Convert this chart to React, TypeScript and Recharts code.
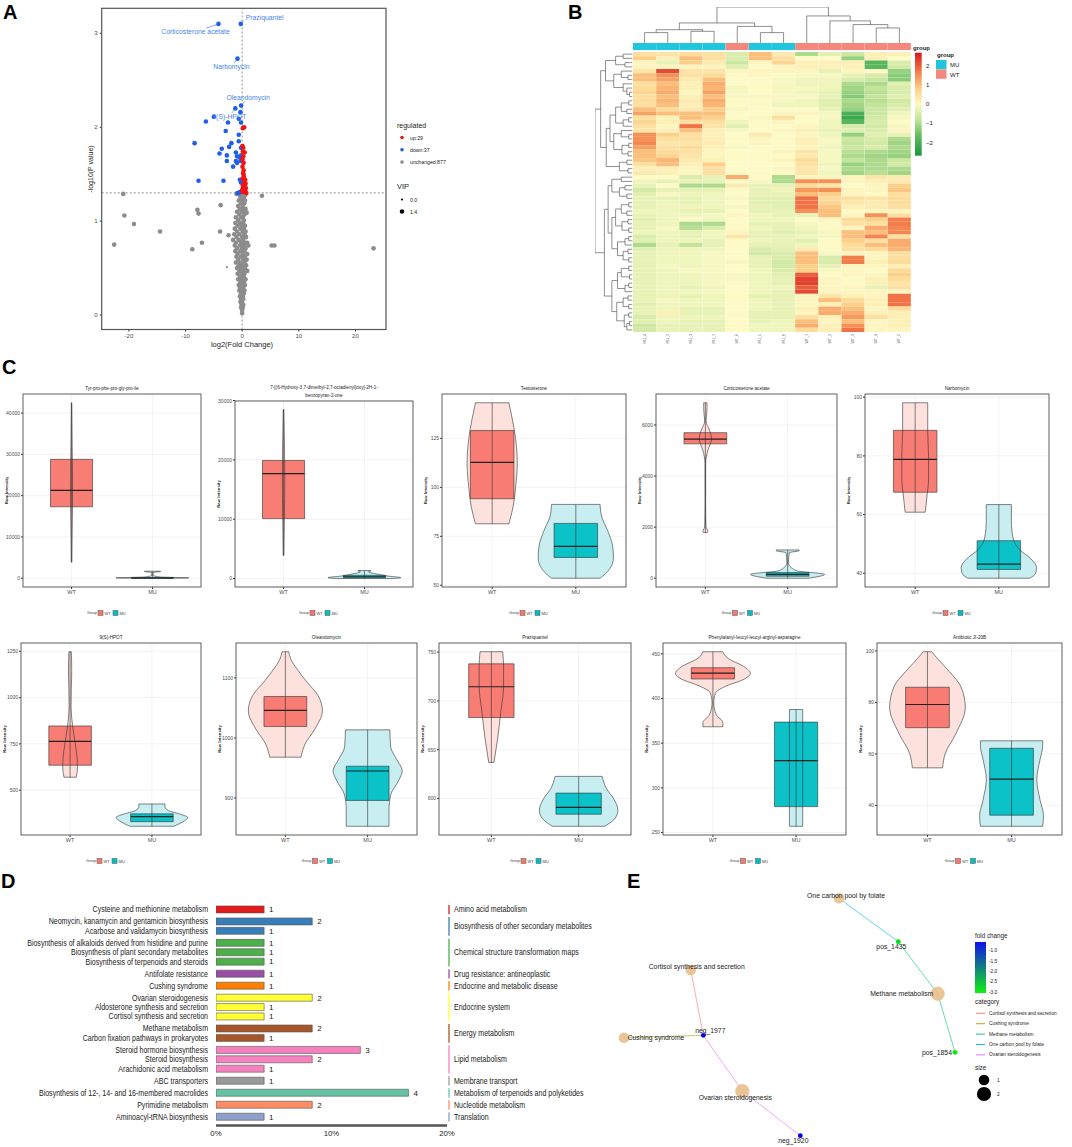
import React from 'react';
import {
  ScatterChart, Scatter, XAxis, YAxis, ReferenceLine, ComposedChart, Area, Line,
  CartesianGrid, BarChart, Bar, Cell, LabelList, LineChart,
} from 'recharts';

const FONT = '"Liberation Sans", Arial, Helvetica, sans-serif';

// ================= Panel A : volcano =================
const volcanoUp: [number, number][] = [
  [0.12, 1.99], [0.36, 2.0], [0.06, 1.8], [0.12, 1.74], [0.2, 1.69], [0.06, 1.66], [0.26, 1.62], [0.06, 1.58],
  [0.18, 1.51], [0.26, 1.49], [0.06, 1.45], [0.4, 1.41], [0.6, 1.4], [0.12, 1.38], [0.5, 1.37], [0.2, 1.36],
  [0.65, 1.35], [0.06, 1.34], [0.4, 1.32], [0.6, 1.31], [0.18, 1.31], [0.75, 1.3], [0.02, 1.32], [0.55, 1.44],
  [0.26, 1.54], [0.45, 1.73], [0.2, 1.78], [0.3, 1.47], [0.1, 1.33],
];
const volcanoDown: [number, number][] = [
  [-0.3, 2.16], [-5.0, 2.11], [-6.4, 2.06], [-2.5, 2.05], [-0.6, 2.09], [-0.2, 2.05], [-2.9, 1.96], [-0.6, 1.92],
  [-8.4, 1.83], [-1.9, 1.83], [-0.6, 1.85], [-3.6, 1.77], [-2.3, 1.79], [-0.2, 1.78], [-4.0, 1.72], [-2.7, 1.7],
  [-1.1, 1.73], [-0.9, 1.69], [-0.2, 1.7], [-2.7, 1.64], [-1.1, 1.64], [-0.5, 1.68], [-1.6, 1.58], [-0.9, 1.62],
  [-0.3, 1.64], [-7.7, 1.43], [-3.3, 1.43], [-0.4, 1.44], [-0.2, 1.41], [-0.6, 1.3], [-0.4, 1.31], [-0.8, 1.3],
];
const volcanoLabelNames = ['Praziquantel', 'Corticosterone acetate', 'Narbomycin', 'Oleandomycin', '9(S)-HPOT'];
const volcanoLabelX = [-0.24, -4.18, -0.82, -0.18, -1.2];
const volcanoLabelY = [3.1, 3.1, 2.73, 2.23, 2.2];
const volcanoNS: [number, number][] = [
  [-21.0, 1.29], [-20.8, 1.06], [-19.1, 0.97], [-22.6, 0.75], [-14.5, 0.89], [-8.8, 0.7], [-7.1, 0.77], [-7.9, 1.12],
  [-7.7, 1.08], [-3.8, 1.17], [-3.9, 0.89], [-2.4, 0.85], [3.5, 1.27], [0.8, 1.09], [5.2, 0.74], [5.7, 0.74],
  [23.2, 0.71], [0.9, 0.77], [-1.0, 1.29],
  [-0.5, 1.28], [0.1, 1.28], [0.6, 1.28], [-0.3, 1.25], [0.3, 1.25], [-0.6, 1.22], [0.0, 1.22], [0.5, 1.22],
  [-0.2, 1.19], [0.4, 1.19], [-0.7, 1.16], [0.1, 1.16], [-0.4, 1.13], [0.3, 1.13], [0.6, 1.13], [-0.9, 1.1],
  [-0.1, 1.1], [0.2, 1.1], [-0.5, 1.07], [0.4, 1.07], [-1.1, 1.04], [-0.2, 1.04], [0.1, 1.04], [-0.7, 1.01],
  [0.3, 1.01], [-1.2, 0.98], [-0.4, 0.98], [0.2, 0.98], [-0.8, 0.95], [0.0, 0.95], [0.5, 0.95], [-1.3, 0.92],
  [-0.3, 0.92], [0.3, 0.92], [-0.9, 0.89], [0.1, 0.89], [0.6, 0.89], [-1.4, 0.86], [-0.5, 0.86], [0.4, 0.86],
  [-1.0, 0.83], [0.0, 0.83], [0.7, 0.83], [-1.6, 0.8], [-0.6, 0.8], [0.2, 0.8], [-1.1, 0.77], [-0.2, 0.77],
  [0.5, 0.77], [-1.3, 0.74], [-0.4, 0.74], [0.3, 0.74], [1.1, 0.74], [-0.9, 0.71], [0.0, 0.71], [0.6, 0.71],
  [-1.2, 0.68], [-0.3, 0.68], [0.4, 0.68], [-0.8, 0.65], [0.1, 0.65], [0.9, 0.65], [-1.0, 0.62], [-0.2, 0.62],
  [0.5, 0.62], [-0.7, 0.59], [0.2, 0.59], [0.8, 0.59], [-1.1, 0.56], [-0.3, 0.56], [0.4, 0.56], [-0.6, 0.53],
  [0.0, 0.53], [0.7, 0.53], [-0.9, 0.5], [-0.2, 0.5], [0.5, 0.5], [-0.5, 0.47], [0.2, 0.47], [0.9, 0.47],
  [-0.8, 0.44], [-0.1, 0.44], [0.4, 0.44], [-0.4, 0.41], [0.3, 0.41], [-0.7, 0.38], [0.0, 0.38], [0.6, 0.38],
  [-0.3, 0.35], [0.3, 0.35], [-0.6, 0.32], [0.1, 0.32], [0.5, 0.32], [-0.4, 0.29], [0.2, 0.29], [-0.5, 0.26],
  [0.0, 0.26], [0.4, 0.26], [-0.2, 0.23], [0.3, 0.23], [-0.4, 0.2], [0.1, 0.2], [-0.2, 0.17], [0.2, 0.17],
  [-0.3, 0.14], [0.0, 0.14], [-0.1, 0.11], [0.2, 0.11], [-0.2, 0.08], [0.1, 0.08], [0.0, 0.05], [0.0, 0.02],
];
const volcanoNSsmall: [number, number][] = [[-2.7, 0.51]];
const volcanoXTicks = [-20, -10, 0, 10, 20];
const volcanoYTicks = [0, 1, 2, 3];
const regulatedLabels = ['up:29', 'down:37', 'unchanged:877'];
const vipLabels = ['0.0', '1.4'];
const pThreshold = 1.301;

// ================= Panel B : heatmap =================
const heatColLabels = ['MU_4', 'MU_2', 'MU_3', 'MU_1', 'WT_6', 'MU_5', 'MU_6', 'WT_1', 'WT_2', 'WT_3', 'WT_4', 'WT_5'];
const heatColGroups = ['MU', 'MU', 'MU', 'MU', 'WT', 'MU', 'MU', 'WT', 'WT', 'WT', 'WT', 'WT'];
const heatRows: number[][] = [
  [0.5, 0.4, 0.6, 0.5, -0.5, 1.0, 0.3, -1.0, -0.4, -0.7, 0.2, 0.2],
  [0.8, 0.2, 1.0, 0.5, -0.5, 1.0, 0.5, 0.0, 0.0, -1.2, 0.2, 0.0],
  [0.1, -0.3, 0.8, 0.3, -0.7, 0.1, 0.7, 0.2, 0.2, 0.2, -1.8, -0.5],
  [0.1, 0.1, 0.1, 0.1, -0.4, 0.0, 0.1, 0.2, 0.2, 0.2, -1.8, -0.6],
  [0.4, 2.2, 0.4, 0.4, 0.1, 0.1, 0.1, 0.1, -0.3, 0.1, 0.0, -1.2],
  [1.0, 1.5, 0.5, 0.6, 0.0, 0.1, 0.0, -0.1, -0.1, -0.3, -0.5, -1.3],
  [1.0, 1.3, 0.3, 1.0, 0.0, 0.0, -0.1, -0.2, -0.2, -0.5, -0.7, -1.3],
  [0.5, 1.0, 0.2, 1.2, 0.0, 0.0, -0.1, -0.2, -0.2, -1.0, -1.0, -0.4],
  [0.6, 1.1, 0.2, 1.1, -0.1, 0.0, -0.1, -0.1, -0.2, -1.1, -0.8, -0.5],
  [0.7, 1.2, 0.1, 1.3, -0.1, 0.0, -0.1, -0.2, -0.3, -1.2, -0.9, -0.5],
  [0.5, 1.0, 0.2, 1.0, -0.1, 0.1, -0.1, -0.1, -0.3, -1.3, -0.8, -0.4],
  [0.6, 1.1, 0.3, 1.2, 0.0, 0.0, -0.1, -0.2, -0.4, -1.0, -0.9, -0.6],
  [0.5, 1.0, 0.2, 1.1, 0.0, 0.0, -0.2, -0.2, -0.4, -1.1, -0.8, -0.5],
  [1.0, 0.6, 0.3, 0.8, -0.1, 0.0, 0.0, 0.0, -0.3, -1.2, -0.7, -0.4],
  [1.3, 1.0, 1.0, 1.0, 0.0, 0.0, 0.1, 0.1, -0.1, -2.0, -0.7, -0.2],
  [0.5, 0.2, 1.0, 0.8, 0.0, 0.1, 0.5, 0.0, -0.1, -2.2, -0.6, -0.1],
  [0.7, 0.2, 0.5, 0.5, -0.2, 0.0, 0.1, 0.0, -0.2, -1.8, -0.5, 0.0],
  [0.5, 0.1, 1.8, 0.4, -0.4, 0.0, 0.0, 0.1, -0.2, -0.5, -0.6, -0.1],
  [0.4, 0.2, 1.0, 0.2, -0.1, 0.0, 0.1, 0.2, -0.3, -0.4, -0.5, 0.1],
  [1.5, 0.8, 0.5, 0.2, 0.0, 0.3, 0.0, 0.1, -0.2, -1.2, -0.4, -0.3],
  [1.5, 0.5, 0.5, 0.2, 0.0, 0.1, 0.0, 0.2, -0.1, -0.7, -0.5, -1.0],
  [1.6, 0.4, 0.4, 0.3, 0.0, 0.1, 0.0, 0.2, -0.1, -0.8, -0.6, -1.1],
  [1.3, 0.5, 0.6, 0.2, -0.1, 0.0, 0.0, 0.1, -0.2, -0.7, -0.5, -1.0],
  [1.0, 0.6, 0.5, 0.1, 0.0, 0.0, 0.1, 0.4, -0.1, -0.9, -1.0, -1.1],
  [1.0, 0.7, 0.4, 0.1, 0.0, 0.0, 0.0, 0.3, -0.1, -1.0, -1.1, -1.2],
  [0.9, 1.1, 0.3, 0.2, 0.0, 0.0, 0.1, 0.6, -0.1, -0.8, -1.0, -0.7],
  [0.5, 1.0, 0.2, 0.8, 0.0, 0.0, 0.0, 0.5, -0.2, -1.2, -1.0, -0.6],
  [0.2, 0.2, 0.1, 0.5, 0.0, 0.0, 0.1, 0.4, -0.1, -1.0, -1.0, -1.0],
  [0.3, 0.2, 0.1, 0.5, 0.0, 0.0, 0.0, 0.4, -0.2, -1.1, -0.9, -1.1],
  [0.0, 0.0, -0.5, -0.3, 1.2, 0.0, -1.0, 0.1, 0.1, 0.1, 0.4, 0.3],
  [-0.2, -0.3, -0.3, -0.3, 0.0, -0.1, -1.0, 1.5, 1.5, 0.1, 0.2, 0.3],
  [-0.3, 0.0, -1.0, -1.0, 0.3, -0.3, -0.3, 0.6, 0.4, 0.0, 0.1, 0.8],
  [-0.6, -0.3, -0.3, -0.3, 0.0, -0.3, -0.2, 1.4, 1.5, 0.1, 0.1, 0.9],
  [-0.4, -0.1, -0.2, -0.2, 0.0, -0.3, -0.3, 1.0, 0.8, 0.1, 0.0, 0.5],
  [-0.3, -0.3, -0.3, -0.2, -0.1, -0.4, -0.4, 1.8, 0.6, 0.5, 0.4, 0.6],
  [-0.3, -0.2, -0.3, -0.2, 0.0, -0.4, -0.4, 1.8, 0.7, 0.4, 0.3, 0.6],
  [-0.3, -0.2, -0.2, -0.2, -0.1, -0.3, -0.4, 1.8, 0.9, 0.2, 0.3, 0.5],
  [-0.2, -0.2, -0.3, -0.3, 0.0, -0.3, -0.3, 1.5, 1.0, 0.0, 0.1, 0.1],
  [-0.3, -0.2, -0.2, -0.1, 0.1, -0.2, -0.3, -0.3, 1.0, 0.1, 1.5, 0.5],
  [-0.4, -0.2, 0.0, -0.2, 0.0, -0.2, -0.2, 0.0, 0.1, 0.6, 0.8, 1.7],
  [-0.3, -0.2, -1.0, -1.0, 0.0, -0.3, -0.3, -0.1, 0.0, 0.5, 0.5, 1.7],
  [-0.3, -0.1, -0.9, -0.5, 0.0, -0.2, -0.3, -0.2, 0.0, 0.1, 1.2, 1.6],
  [-0.2, -0.2, -0.3, -0.2, 0.1, -0.3, -0.4, -0.3, -0.1, 1.0, 1.0, 1.6],
  [-0.5, -0.2, -0.3, -0.2, 0.4, -0.3, -0.3, -0.2, -0.1, 1.0, 1.6, 0.5],
  [-0.4, -0.2, -0.2, -0.3, 0.0, -0.2, -0.3, -0.4, 0.0, 0.8, 0.5, 1.2],
  [-1.0, -0.3, -0.8, -0.3, 0.0, -0.3, -0.3, -0.2, 0.0, 0.6, 1.0, 1.2],
  [-0.4, -0.2, -0.2, -0.2, 0.0, -0.5, -0.4, 0.3, 0.0, 0.5, 0.6, 1.1],
  [-0.3, -0.2, -0.2, -0.1, 0.0, -0.6, -0.5, 1.0, -0.1, 0.1, 0.1, 0.5],
  [-0.3, -0.2, -0.2, -0.1, 0.0, -0.3, -0.5, 1.0, -0.5, 1.7, 0.1, 0.5],
  [-0.3, -0.2, -0.2, -0.1, -0.1, -0.3, -0.6, 1.0, -0.5, 1.7, 0.2, 0.6],
  [-0.3, -0.1, -0.2, -0.1, 0.0, -0.3, -0.6, 0.8, -0.3, 0.1, 0.1, 0.2],
  [-0.3, -0.2, -0.1, -0.1, 0.0, -0.2, -0.5, 0.8, -0.1, 0.1, 0.0, 0.6],
  [-0.3, -0.2, -0.2, -0.1, -0.1, -0.2, -0.4, 2.0, 0.0, 0.1, 0.1, 0.8],
  [-0.3, -0.2, -0.2, -0.1, -0.1, -0.2, -0.3, 2.3, 0.1, 0.0, 0.2, 0.6],
  [-0.3, -0.2, -0.2, -0.1, 0.0, -0.2, -0.3, 2.3, 0.1, 0.0, 0.2, 0.4],
  [-0.3, -0.2, -0.3, -0.2, 0.0, -0.2, -0.2, 2.0, 0.1, 0.1, -0.3, 0.5],
  [-0.3, -0.2, -0.2, -0.1, 0.0, -0.2, -0.3, 2.2, 0.1, 0.1, 0.1, 0.1],
  [-0.3, -0.2, -0.3, -0.2, 0.0, -0.3, -0.3, 0.1, 0.4, 0.2, 0.1, 1.8],
  [-0.3, -0.1, -0.2, -0.2, 0.0, -0.2, -0.3, 0.1, 1.0, 0.6, 0.2, 1.8],
  [-0.4, -0.2, -0.2, -0.2, 0.0, -0.2, -0.3, 0.1, 0.2, 0.8, 0.2, 1.8],
  [-0.3, -0.2, -0.3, -0.3, 0.0, -0.2, -0.3, 0.2, 1.2, 1.0, 0.1, 0.6],
  [-0.3, 0.2, -0.3, -0.3, 0.0, -0.3, -0.3, 0.1, 1.2, 1.2, 0.2, 0.2],
  [-0.5, -0.2, -0.2, -0.2, 0.0, -0.3, -0.3, 0.5, 0.2, 1.4, 0.5, 0.2],
  [-0.4, -0.2, -0.3, -0.3, 0.0, -0.3, -0.2, 1.0, 0.1, 1.0, 0.1, 0.2],
  [-0.7, -0.3, -0.3, -0.3, 0.0, -0.2, -0.2, 1.2, 0.2, 1.5, 0.1, 0.2],
  [-0.6, -0.3, -0.3, -0.3, 0.0, -0.2, -0.2, 0.6, 0.2, 1.8, 0.1, 0.1],
];
type TNode = number | [TNode, TNode, number];
const colTree: TNode = [
  [[[0, 1, 0.3], [2, 3, 0.336], 0.38], [4, [5, 6, 0.3], 0.47], 0.564],
  [7, [8, [9, [10, 11, 0.427], 0.52], 0.62], 0.755],
  1.0,
];
const rowTree: TNode = [
  [
    [[[0, 1, 0.25], [2, 3, 0.2], 0.45], [[4, [5, 6, 0.12], 0.3], [7, [8, [9, 10, 0.08], 0.15], 0.25], 0.5], 0.72],
    [[[[[11, 12, 0.1], [13, 14, 0.15], 0.3], [[15, 16, 0.1], 17, 0.25], 0.45], [[18, [19, 20, 0.1], 0.3], [[21, 22, 0.1], [23, 24, 0.12], 0.28], 0.5], 0.6],
      [[25, 26, 0.15], [27, 28, 0.12], 0.35], 0.7],
    0.85,
  ],
  [
    [[[29, 30, 0.3], [[31, 32, 0.2], [33, 34, 0.15], 0.35], 0.55],
      [[[[35, 36, 0.1], [37, 38, 0.15], 0.3], [[39, 40, 0.12], [41, 42, 0.1], 0.28], 0.45],
        [[[43, 44, 0.1], 45, 0.2], [[46, 47, 0.12], [48, 49, 0.1], 0.25], 0.4], 0.55], 0.65],
    [[[[50, 51, 0.1], [52, 53, 0.08], 0.3], [[54, 55, 0.1], 56, 0.2], 0.4],
      [[[57, 58, 0.12], [59, 60, 0.1], 0.25], [[61, 62, 0.1], [[63, 64, 0.08], 65, 0.15], 0.22], 0.42], 0.55],
    0.75,
  ],
  1.0,
];
const heatLegendTicks = [2, 1, 0, -1, -2];
const heatLegendMax = 2.69;
const heatLegendMin = -2.68;
const groupNames = ['MU', 'WT'];

// ================= Panel C : violins =================
const violinTitles = [
  'Tyr-pro-phe-pro-gly-pro-ile',
  '7-[(6-Hydroxy-3,7-dimethyl-2,7-octadienyl)oxy]-2H-1-benzopyran-2-one',
  'Testosterone', 'Corticosterone acetate', 'Narbomycin',
  '9(S)-HPOT', 'Oleandomycin', 'Praziquantel', 'Phenylalanyl-leucyl-leucyl-arginyl-asparagine', 'Antibiotic JI-20B',
];
const violinTicks: number[][] = [
  [0, 10000, 20000, 30000, 40000], [0, 10000, 20000, 30000], [50, 75, 100, 125], [0, 2000, 4000, 6000], [40, 60, 80, 100],
  [500, 750, 1000, 1250], [900, 1000, 1100], [600, 650, 700, 750], [250, 300, 350, 400, 450], [40, 60, 80, 100],
];
// [value, half width]
const wtProfiles: [number, number][][] = [
  [[3900, 0.004], [10000, 0.007], [18000, 0.012], [24000, 0.012], [32000, 0.008], [42500, 0.003]],
  [[3900, 0.005], [10000, 0.01], [17000, 0.015], [22000, 0.012], [28500, 0.004]],
  [[81.4, 0.2], [90, 0.25], [100, 0.28], [112, 0.3], [125, 0.28], [135, 0.24], [143.2, 0.2]],
  [[1786, 0.025], [1850, 0.03], [2000, 0.008], [3000, 0.003], [4500, 0.004], [5000, 0.03], [5450, 0.075], [5800, 0.05], [6150, 0.008], [6600, 0.02], [6870, 0.02]],
  [[60.8, 0.12], [66, 0.14], [72, 0.16], [80, 0.16], [88, 0.15], [94, 0.15], [98.1, 0.15]],
  [[570, 0.075], [620, 0.09], [680, 0.085], [760, 0.06], [850, 0.03], [950, 0.012], [1050, 0.015], [1150, 0.02], [1248, 0.015]],
  [[968, 0.19], [990, 0.24], [1015, 0.36], [1045, 0.45], [1070, 0.4], [1095, 0.25], [1115, 0.14], [1130, 0.07], [1143.5, 0.04]],
  [[637, 0.03], [660, 0.07], [690, 0.11], [715, 0.14], [735, 0.14], [750.4, 0.13]],
  [[368.4, 0.12], [373, 0.12], [382, 0.04], [395, 0.01], [406, 0.03], [414, 0.16], [421, 0.36], [428, 0.45], [436, 0.37], [445, 0.18], [452.4, 0.12]],
  [[54.6, 0.18], [60, 0.21], [68, 0.34], [78, 0.45], [86, 0.4], [92, 0.26], [97, 0.12], [99.7, 0.05]],
];
const muProfiles: [number, number][][] = [
  [[0, 0.3], [80, 0.45], [300, 0.1], [700, 0.01], [1400, 0.01], [1620, 0.1], [1700, 0.1]],
  [[0, 0.35], [150, 0.45], [400, 0.3], [800, 0.14], [1150, 0.05], [1300, 0.08], [1350, 0.08]],
  [[53.6, 0.29], [58, 0.4], [64, 0.45], [70, 0.44], [78, 0.38], [85, 0.31], [91.3, 0.29]],
  [[0, 0.25], [150, 0.45], [300, 0.1], [600, 0.01], [1000, 0.02], [1080, 0.14], [1107, 0.14]],
  [[38.3, 0.37], [40, 0.44], [42, 0.45], [45, 0.38], [48, 0.25], [52, 0.17], [58, 0.15], [63.4, 0.15]],
  [[305, 0.27], [330, 0.38], [352, 0.44], [370, 0.35], [390, 0.2], [410, 0.16], [425.5, 0.16]],
  [[853, 0.26], [880, 0.26], [905, 0.28], [930, 0.38], [945, 0.42], [965, 0.35], [985, 0.28], [1013.5, 0.27]],
  [[571.6, 0.3], [580, 0.42], [588, 0.45], [600, 0.4], [610, 0.32], [622.7, 0.27]],
  [[257, 0.08], [300, 0.08], [350, 0.08], [387.7, 0.08]],
  [[31.9, 0.37], [36, 0.38], [42, 0.34], [50, 0.3], [58, 0.34], [63, 0.37], [65.1, 0.37]],
];
// [q1, median, q3]
const wtBoxes: [number, number, number][] = [
  [17300, 21300, 28800], [10100, 17700, 19900], [94.2, 112.8, 129], [5262, 5450, 5700], [67.6, 78.8, 88.7],
  [635, 764, 847], [1019, 1046, 1069], [683, 714.5, 738], [421.9, 428.4, 434.5], [70.2, 79.2, 85.9],
];
const muBoxes: [number, number, number][] = [
  [10, 60, 150], [120, 300, 550], [64.2, 69.9, 81.6], [80, 150, 220], [41.3, 43.1, 51.1],
  [330, 357, 372], [896, 945, 953], [584, 591, 605.6], [279, 330.6, 373.6], [36.2, 50.2, 62.2],
];
const violinGroups = ['WT', 'MU'];

// ================= Panel D : KEGG bars =================
const keggNames = [
  'Cysteine and methionine metabolism', 'Neomycin, kanamycin and gentamicin biosynthesis', 'Acarbose and validamycin biosynthesis',
  'Biosynthesis of alkaloids derived from histidine and purine', 'Biosynthesis of plant secondary metabolites', 'Biosynthesis of terpenoids and steroids',
  'Antifolate resistance', 'Cushing syndrome', 'Ovarian steroidogenesis', 'Aldosterone synthesis and secretion', 'Cortisol synthesis and secretion',
  'Methane metabolism', 'Carbon fixation pathways in prokaryotes', 'Steroid hormone biosynthesis', 'Steroid biosynthesis', 'Arachidonic acid metabolism',
  'ABC transporters', 'Biosynthesis of 12-, 14- and 16-membered macrolides', 'Pyrimidine metabolism', 'Aminoacyl-tRNA biosynthesis',
];
const keggCounts = [1, 2, 1, 1, 1, 1, 1, 1, 2, 1, 1, 2, 1, 3, 2, 1, 1, 4, 2, 1];
const keggGroupIdx = [0, 1, 1, 2, 2, 2, 3, 4, 5, 5, 5, 6, 6, 7, 7, 7, 8, 9, 10, 11];
const keggGroups = [
  'Amino acid metabolism', 'Biosynthesis of other secondary metabolites', 'Chemical structure transformation maps',
  'Drug resistance: antineoplastic', 'Endocrine and metabolic disease', 'Endocrine system', 'Energy metabolism', 'Lipid metabolism',
  'Membrane transport', 'Metabolism of terpenoids and polyketides', 'Nucleotide metabolism', 'Translation',
];
const keggTotal = 24;
const keggXTicks = [0, 10, 20];

// ================= Panel E : network =================
const netNames = ['One carbon pool by folate', 'pos_1435', 'Methane metabolism', 'pos_1854', 'Cortisol synthesis and secretion', 'neg_1977', 'Cushing syndrome', 'Ovarian steroidogenesis', 'neg_1920'];
const netX = [23.9, 29.83, 33.77, 35.5, 9.07, 10.33, 2.4, 14.23, 20.03];
const netY = [2.83, 7.17, 12.37, 18.23, 10.0, 16.53, 16.77, 22.1, 26.57];
const netSize = [1, 0, 2, 0, 1, 0, 1, 2, 0];
const netFold = [NaN, -2.9, NaN, -3.0, NaN, -1.0, NaN, NaN, -1.0];
const netCategories = ['Cortisol synthesis and secretion', 'Cushing syndrome', 'Methane metabolism', 'One carbon pool by folate', 'Ovarian steroidogenesis'];
const netEdges: [number, number, number][] = [[0, 1, 3], [1, 2, 2], [2, 3, 2], [4, 5, 0], [6, 5, 1], [7, 5, 4], [7, 8, 4]];
const foldTicks = [-1.0, -1.5, -2.0, -2.5, -3.0];
const sizeLevels = [1, 2];

// ================= styles / helpers =================
const catColors = ['#F8766D', '#A3A500', '#00BF7D', '#00B0F6', '#E76BF3'];
const keggColors = ['#e41a1c', '#377eb8', '#4daf4a', '#984ea3', '#ff7f00', '#ffff33', '#a65628', '#f781bf', '#999999', '#66c2a5', '#fc8d62', '#8da0cb'];
const heatStops: [number, string][] = [[-2.7, '#1a9641'], [-1.6, '#66bd63'], [-0.8, '#c4e49a'], [0, '#fdfac6'], [0.8, '#fdd08a'], [1.6, '#f4874f'], [2.7, '#d7191c']];
const groupColor: Record<string, string> = { MU: '#1fc6de', WT: '#f6877c' };

function hex2rgb(h: string) { return [1, 3, 5].map((k) => parseInt(h.slice(k, k + 2), 16)); }
function mix(a: string, b: string, t: number) {
  const A = hex2rgb(a), B = hex2rgb(b);
  return 'rgb(' + A.map((v, i) => Math.round(v + (B[i] - v) * t)).join(',') + ')';
}
function heatColor(v: number) {
  if (v <= heatStops[0][0]) return heatStops[0][1];
  for (let i = 1; i < heatStops.length; i++) {
    if (v <= heatStops[i][0]) {
      const t = (v - heatStops[i - 1][0]) / (heatStops[i][0] - heatStops[i - 1][0]);
      return mix(heatStops[i - 1][1], heatStops[i][1], t);
    }
  }
  return heatStops[heatStops.length - 1][1];
}
function foldColor(v: number) { return mix('#00ee00', '#0000ff', (v + 3) / 2); }

function walkTree(t: TNode, leaf: (i: number) => number, out: { pos: number; h: number }[][]): { pos: number; h: number } {
  if (typeof t === 'number') return { pos: leaf(t), h: 0 };
  const a = walkTree(t[0], leaf, out);
  const b = walkTree(t[1], leaf, out);
  out.push([{ pos: a.pos, h: a.h }, { pos: a.pos, h: t[2] }, { pos: b.pos, h: t[2] }, { pos: b.pos, h: b.h }]);
  return { pos: (a.pos + b.pos) / 2, h: t[2] };
}

const abs = (l: number, t: number): React.CSSProperties => ({ position: 'absolute', left: l, top: t });

// ================= Panel A =================
const volcanoLabelStyle = [
  { dx: 5, dy: -6, anchor: 'start' }, { dx: -23, dy: 8, anchor: 'middle' }, { dx: -6, dy: 8, anchor: 'middle' },
  { dx: 7, dy: -8, anchor: 'middle' }, { dx: -6, dy: 8, anchor: 'middle' },
];
const dotShape = (fill: string, r: number) => (p: any) => <circle cx={p.cx} cy={p.cy} r={r} fill={fill} />;
const LabeledDot = (p: any) => {
  const s = volcanoLabelStyle[p.payload.i];
  return (
    <g>
      <line x1={p.cx} y1={p.cy} x2={p.cx + s.dx * 0.55} y2={p.cy + s.dy * 0.55} stroke="#4a86e8" strokeWidth={0.7} />
      <circle cx={p.cx} cy={p.cy} r={2.3} fill="#1f5ee8" />
      <text x={p.cx + s.dx} y={p.cy + s.dy} textAnchor={s.anchor as any} dominantBaseline="central" fontSize={6.8} fill="#4a86e8" fontFamily={FONT}>{p.payload.name}</text>
    </g>
  );
};
const A_L = 101.7, A_R = 386, A_T = 8.3, A_B = 329.5;

function PanelA() {
  const pts = (a: [number, number][]) => a.map(([x, y]) => ({ x, y }));
  const labeled = volcanoLabelNames.map((name, i) => ({ name, i, x: volcanoLabelX[i], y: volcanoLabelY[i] }));
  const tick = { fontSize: 6, fill: '#4d4d4d', fontFamily: FONT };
  return (
    <div style={abs(0, 0)}>
      <ScatterChart width={400} height={360} margin={{ top: A_T, right: 400 - A_R, bottom: 360 - A_B - 20, left: A_L - 20 }}>
        <XAxis type="number" dataKey="x" domain={[-24.8, 25.4]} ticks={volcanoXTicks} allowDataOverflow height={20} tick={tick} tickSize={2} axisLine={false} tickLine={{ stroke: '#333' }} />
        <YAxis type="number" dataKey="y" domain={[-0.154, 3.266]} ticks={volcanoYTicks} allowDataOverflow width={20} tick={tick} tickSize={2} axisLine={false} tickLine={{ stroke: '#333' }} />
        <ReferenceLine x={0} stroke="#777" strokeDasharray="2 2" strokeWidth={0.8} />
        <ReferenceLine y={pThreshold} stroke="#777" strokeDasharray="2 2" strokeWidth={0.8} />
        <Scatter data={pts(volcanoNS)} shape={dotShape('#8c8c8c', 2.3)} isAnimationActive={false} />
        <Scatter data={pts(volcanoNSsmall)} shape={dotShape('#8c8c8c', 1.1)} isAnimationActive={false} />
        <Scatter data={pts(volcanoDown)} shape={dotShape('#1f5ee8', 2.3)} isAnimationActive={false} />
        <Scatter data={pts(volcanoUp)} shape={dotShape('#f01414', 2.3)} isAnimationActive={false} />
        <Scatter data={labeled} shape={LabeledDot} isAnimationActive={false} />
      </ScatterChart>
    </div>
  );
}

// ================= Panel B =================
const HB_L = 632.5, HB_W = 278, HB_T = 52, HB_H = 280;

function PanelB() {
  const heatData = heatColLabels.map((name) => {
    const o: any = { name };
    heatRows.forEach((_, i) => { o['r' + i] = 1; });
    return o;
  });
  const annData = heatColLabels.map((name) => ({ name, v: 1 }));
  const colSegs: { pos: number; h: number }[][] = [];
  walkTree(colTree, (i) => i, colSegs);
  const colDendro = colSegs.flatMap((s) => [...s.map((p) => ({ c: p.pos, h: p.h })), { c: null, h: null }]);
  const rowSegs: { pos: number; h: number }[][] = [];
  walkTree(rowTree, (i) => i + 0.5, rowSegs);
  const rowDendro = rowSegs.flatMap((s) => [...s.map((p) => ({ h: p.h, r: p.pos })), { h: null, r: null }]);
  const ColTick = (p: any) => (
    <text transform={`translate(${p.x},${p.y + 2}) rotate(-90)`} textAnchor="end" dominantBaseline="central" fontSize={3.6} fill="#555" fontFamily={FONT}>{p.payload.value}</text>
  );
  return (
    <>
      <div style={abs(HB_L, 6.7)}>
        <LineChart width={HB_W} height={36.6} data={colDendro} margin={{ top: 0, right: 0, bottom: 0, left: 0 }}>
          <XAxis type="number" dataKey="c" domain={[-0.5, 11.5]} hide allowDataOverflow />
          <YAxis type="number" domain={[0, 1]} hide allowDataOverflow />
          <Line dataKey="h" stroke="#444" strokeWidth={0.6} dot={false} activeDot={false} isAnimationActive={false} />
        </LineChart>
      </div>
      <div style={abs(HB_L, 43.3)}>
        <BarChart width={HB_W} height={7} data={annData} margin={{ top: 0, right: 0, bottom: 0, left: 0 }} barCategoryGap={0}>
          <XAxis dataKey="name" hide />
          <YAxis domain={[0, 1]} hide />
          <Bar dataKey="v" isAnimationActive={false}>
            {annData.map((_, j) => <Cell key={j} fill={groupColor[heatColGroups[j]]} />)}
          </Bar>
        </BarChart>
      </div>
      <div style={abs(HB_L, HB_T)}>
        <BarChart width={HB_W} height={HB_H + 24} data={heatData} margin={{ top: 0, right: 0, bottom: 0, left: 0 }} barCategoryGap={0} barGap={0}>
          <XAxis dataKey="name" height={24} interval={0} tick={ColTick} axisLine={false} tickLine={false} tickSize={0} tickMargin={0} />
          <YAxis type="number" domain={[0, heatRows.length]} reversed hide allowDataOverflow />
          {heatRows.map((row, i) => (
            <Bar key={i} dataKey={'r' + i} stackId="s" isAnimationActive={false}>
              {row.map((v, j) => <Cell key={j} fill={heatColor(v)} />)}
            </Bar>
          ))}
        </BarChart>
      </div>
      <div style={abs(595, HB_T)}>
        <LineChart width={HB_L - 595} height={HB_H} data={rowDendro} margin={{ top: 0, right: 0, bottom: 0, left: 0 }}>
          <XAxis type="number" dataKey="h" domain={[0, 1]} reversed hide allowDataOverflow />
          <YAxis type="number" domain={[0, heatRows.length]} reversed hide allowDataOverflow />
          <Line dataKey="r" stroke="#444" strokeWidth={0.6} dot={false} activeDot={false} isAnimationActive={false} />
        </LineChart>
      </div>
    </>
  );
}

// ================= Panel C =================
const cLayout = [
  { l: 23, r: 201, t: 394, b: 587 }, { l: 235, r: 413, t: 401, b: 587 }, { l: 442, r: 626, t: 394, b: 587 },
  { l: 656, r: 837, t: 394, b: 587 }, { l: 865, r: 1049, t: 394, b: 587 },
  { l: 21, r: 201, t: 643, b: 835 }, { l: 236, r: 417, t: 643, b: 835 }, { l: 439, r: 631, t: 643, b: 835 },
  { l: 663, r: 846, t: 643, b: 835 }, { l: 877, r: 1062, t: 643, b: 835 },
];
const VIOLIN_FILL: Record<string, string> = { wt: '#fce1dd', mu: '#c9eef1' };
const BOX_FILL: Record<string, string> = { wt: '#f8766d', mu: '#00bfc4' };
const OUTLINE = '#333';

function buildViolinRows(prof: [number, number][], c: number, box: [number, number, number], g: string) {
  const rows: any[] = [];
  const hw = 0.26;
  prof.forEach(([v, w]) => rows.push({ y: v, [g + 'V']: [c - w, c + w] }));
  prof.forEach(([v, w]) => rows.push({ y: v, [g + 'L']: c - w }));
  prof.forEach(([v, w]) => rows.push({ y: v, [g + 'R']: c + w }));
  const [v0, w0] = prof[0];
  const [v1, w1] = prof[prof.length - 1];
  rows.push({ y: v0, [g + 'D']: c - w0 }, { y: v0, [g + 'D']: c + w0 });
  rows.push({ y: v1, [g + 'T']: c - w1 }, { y: v1, [g + 'T']: c + w1 });
  const [q1, md, q3] = box;
  rows.push({ y: q1, [g + 'B']: [c - hw, c + hw] }, { y: q3, [g + 'B']: [c - hw, c + hw] });
  rows.push({ y: v0, [g + 'W']: c }, { y: v1, [g + 'W']: c });
  rows.push(
    { y: q1, [g + 'Q']: c - hw }, { y: q1, [g + 'Q']: c + hw }, { y: q3, [g + 'Q']: c + hw },
    { y: q3, [g + 'Q']: c - hw }, { y: q1, [g + 'Q']: c - hw },
  );
  rows.push({ y: md, [g + 'M']: c - hw }, { y: md, [g + 'M']: c + hw });
  return rows;
}

function ViolinPanel({ idx }: { idx: number }) {
  const L = cLayout[idx];
  const wt = wtProfiles[idx], mu = muProfiles[idx];
  const vals = [...wt, ...mu].map((p) => p[0]);
  const mn = Math.min(...vals), mx = Math.max(...vals);
  const pad = (mx - mn) * 0.05;
  const rows = [...buildViolinRows(wt, 1, wtBoxes[idx], 'wt'), ...buildViolinRows(mu, 2, muBoxes[idx], 'mu')];
  const w = L.r - L.l, h = L.b - L.t;
  const tick = { fontSize: 5, fill: '#4d4d4d', fontFamily: FONT };
  const groups = ['wt', 'mu'];
  return (
    <div style={abs(L.l - 24, L.t - 2)}>
      <ComposedChart layout="vertical" width={w + 26} height={h + 16} data={rows} margin={{ top: 2, right: 2, bottom: 0, left: 0 }}>
        <CartesianGrid stroke="#ebebeb" strokeWidth={0.6} />
        <XAxis type="number" domain={[0.4, 2.6]} ticks={[1, 2]} tickFormatter={(v: number) => violinGroups[v - 1]} allowDataOverflow height={14}
          tick={{ fontSize: 5.5, fill: '#4d4d4d', fontFamily: FONT }} tickSize={2} tickMargin={1} axisLine={false} tickLine={{ stroke: '#333' }} />
        <YAxis type="number" dataKey="y" domain={[mn - pad, mx + pad]} reversed ticks={violinTicks[idx]} allowDataOverflow width={24}
          tick={tick} tickSize={2} tickMargin={1} axisLine={false} tickLine={{ stroke: '#333' }} />
        {groups.map((g) => (
          <Area key={g + 'V'} dataKey={g + 'V'} type="monotone" fill={VIOLIN_FILL[g]} fillOpacity={1} stroke="none" connectNulls isAnimationActive={false} />
        ))}
        {groups.map((g) => (
          <Area key={g + 'B'} dataKey={g + 'B'} type="linear" fill={BOX_FILL[g]} fillOpacity={0.95} stroke="none" connectNulls isAnimationActive={false} />
        ))}
        {groups.flatMap((g) => ['L', 'R'].map((s) => (
          <Line key={g + s} dataKey={g + s} type="monotone" stroke={OUTLINE} strokeWidth={0.6} dot={false} activeDot={false} connectNulls isAnimationActive={false} />
        )))}
        {groups.flatMap((g) => ['D', 'T', 'W', 'Q'].map((s) => (
          <Line key={g + s} dataKey={g + s} type="linear" stroke={OUTLINE} strokeWidth={0.6} dot={false} activeDot={false} connectNulls isAnimationActive={false} />
        )))}
        {groups.map((g) => (
          <Line key={g + 'M'} dataKey={g + 'M'} type="linear" stroke="#222" strokeWidth={1.2} dot={false} activeDot={false} connectNulls isAnimationActive={false} />
        ))}
      </ComposedChart>
    </div>
  );
}

// ================= Panel D =================
const D_TOP = 904.4, D_PLOT_H = 221.6, D_DOM: [number, number] = [-0.6, 23.0];
const D_UNIT = D_PLOT_H / (D_DOM[1] - D_DOM[0]);
const D_FONT = 8.3;

function PanelD() {
  const data = keggNames.map((name, i) => ({
    name, pos: i + 0.28 * keggGroupIdx[i], pct: (keggCounts[i] / keggTotal) * 100, count: keggCounts[i], g: keggGroupIdx[i],
  }));
  const nameByPos = new Map(data.map((d) => [d.pos.toFixed(3), d.name]));
  const groupCenters = keggGroups.map((_, gi) => {
    const ps = data.filter((d) => d.g === gi).map((d) => d.pos);
    return { gi, n: ps.length, c: (Math.min(...ps) + Math.max(...ps)) / 2 };
  });
  const groupByPos = new Map(groupCenters.map((g) => [g.c.toFixed(3), g]));
  const KeggTick = (p: any) => (
    <text transform={`translate(${p.x},${p.y}) scale(0.85,1)`} textAnchor="end" dominantBaseline="central" fontSize={D_FONT} fill="#222" fontFamily={FONT}>
      {nameByPos.get(Number(p.payload.value).toFixed(3))}
    </text>
  );
  const GroupTick = (p: any) => {
    const g = groupByPos.get(Number(p.payload.value).toFixed(3));
    if (!g) return <g />;
    const half = ((g.n - 1) / 2) * D_UNIT + 4.6;
    return (
      <g>
        <line x1={p.x + 2} x2={p.x + 2} y1={p.y - half} y2={p.y + half} stroke={keggColors[g.gi]} strokeWidth={1.3} />
        <text transform={`translate(${p.x + 7},${p.y}) scale(0.85,1)`} dominantBaseline="central" fontSize={D_FONT} fill="#222" fontFamily={FONT}>{keggGroups[g.gi]}</text>
      </g>
    );
  };
  return (
    <div style={abs(0, D_TOP)}>
      <BarChart layout="vertical" width={640} height={D_PLOT_H + 20} data={data} margin={{ top: 0, right: 0, bottom: 0, left: 0 }}>
        <XAxis type="number" domain={[0, 20]} ticks={keggXTicks} tickFormatter={(v: number) => v + '%'} allowDataOverflow height={20}
          axisLine={{ stroke: '#555', strokeWidth: 2.5 }} tickLine={false} tickSize={3}
          tick={{ fontSize: 7.8, fill: '#222', fontFamily: FONT }} />
        <YAxis type="number" dataKey="pos" domain={D_DOM} ticks={data.map((d) => d.pos)} interval={0} allowDataOverflow width={216}
          axisLine={false} tickLine={false} tickSize={0} tickMargin={8} tick={KeggTick} />
        <YAxis yAxisId="right" orientation="right" type="number" dataKey="pos" domain={D_DOM} ticks={groupCenters.map((g) => g.c)} interval={0}
          allowDataOverflow width={193} axisLine={false} tickLine={false} tickSize={0} tickMargin={0} tick={GroupTick} />
        <Bar dataKey="pct" barSize={7} stroke="#555" strokeWidth={0.6} isAnimationActive={false}>
          {data.map((d, i) => <Cell key={i} fill={keggColors[d.g]} />)}
          <LabelList dataKey="count" position="right" offset={5} fontSize={8} fill="#222" fontFamily={FONT} />
        </Bar>
        <Bar yAxisId="right" dataKey="pct" barSize={7} fill="none" stroke="none" isAnimationActive={false} />
      </BarChart>
    </div>
  );
}

// ================= Panel E =================
const netLabelStyle = [
  { dx: 7, dy: -3 }, { dx: -7, dy: 5 }, { dx: -36, dy: 0 }, { dx: -18, dy: 0 }, { dx: 6, dy: -4 },
  { dx: 7, dy: -5 }, { dx: 32, dy: 0 }, { dx: -7, dy: 6 }, { dx: -7, dy: 5 },
];
const sizeRadius = [2.4, 5.3, 7.1];

function PanelE() {
  const nodes = netNames.map((name, i) => ({ name, i, x: netX[i], y: netY[i] }));
  const NodeShape = (p: any) => {
    const i = p.payload.i;
    const s = netLabelStyle[i];
    const isPath = netSize[i] > 0;
    return (
      <g>
        <circle cx={p.cx} cy={p.cy} r={sizeRadius[netSize[i]]} fill={isPath ? '#e8c08c' : foldColor(netFold[i])} fillOpacity={isPath ? 0.9 : 1} />
        <text x={p.cx + s.dx} y={p.cy + s.dy} textAnchor="middle" dominantBaseline="central" fontSize={6.8} fill="#222" fontFamily={FONT}>{p.payload.name}</text>
      </g>
    );
  };
  return (
    <div style={abs(600, 870)}>
      <ScatterChart width={472} height={277} margin={{ top: 0, right: 0, bottom: 0, left: 0 }}>
        <XAxis type="number" dataKey="x" domain={[0, 47.2]} hide allowDataOverflow />
        <YAxis type="number" dataKey="y" domain={[0, 27.7]} reversed hide allowDataOverflow />
        {netEdges.map(([a, b, cat], k) => (
          <Scatter key={k} data={[{ x: netX[a], y: netY[a] }, { x: netX[b], y: netY[b] }]}
            line={{ stroke: catColors[cat], strokeWidth: 1, strokeOpacity: 0.6 }} shape={() => <g />} isAnimationActive={false} />
        ))}
        <Scatter data={nodes} shape={NodeShape} isAnimationActive={false} />
      </ScatterChart>
    </div>
  );
}

// ================= Overlay : frames, titles, legends =================
function Overlay() {
  const letter = (s: string, x: number, y: number) => (
    <text x={x} y={y} fontSize={20} fontWeight="bold" fill="#000" fontFamily={FONT}>{s}</text>
  );
  const gradStops = heatStops.map(([v, c]) => ({ off: Math.min(1, Math.max(0, (heatLegendMax - v) / (heatLegendMax - heatLegendMin))), c }));
  const heatLegY = (v: number) => 52.7 + ((heatLegendMax - v) / (heatLegendMax - heatLegendMin)) * 103;
  const t = (x: number, y: number, s: string, size: number, extra: any = {}) => (
    <text x={x} y={y} fontSize={size} fontFamily={FONT} fill="#222" dominantBaseline="central" {...extra}>{s}</text>
  );
  return (
    <svg width={1072} height={1147} style={{ position: 'absolute', left: 0, top: 0, pointerEvents: 'none' }}>
      <defs>
        <linearGradient id="heatgrad" x1="0" y1="0" x2="0" y2="1">
          {gradStops.slice().reverse().map((s, k) => <stop key={k} offset={s.off} stopColor={s.c} />)}
        </linearGradient>
        <linearGradient id="foldgrad" x1="0" y1="0" x2="0" y2="1">
          <stop offset="0" stopColor="#1010f0" />
          <stop offset="1" stopColor="#10f010" />
        </linearGradient>
      </defs>
      {letter('A', 3, 19)}
      {letter('B', 568, 19)}
      {letter('C', 2, 374)}
      {letter('D', 1, 888)}
      {letter('E', 627, 888)}

      <rect x={A_L} y={A_T} width={A_R - A_L} height={A_B - A_T} fill="none" stroke="#555" strokeWidth={1.2} />
      {t(242, 344, 'log2(Fold Change)', 7.5, { textAnchor: 'middle' })}
      <text transform="translate(90,169) rotate(-90)" textAnchor="middle" dominantBaseline="central" fontSize={7} fontFamily={FONT} fill="#222">-log10(P value)</text>
      {t(397, 125, 'regulated', 7)}
      {regulatedLabels.map((s, k) => (
        <g key={k}>
          <circle cx={402} cy={137.5 + k * 12.3} r={1.8} fill={['#f01414', '#1f5ee8', '#8c8c8c'][k]} />
          {t(410, 137.5 + k * 12.3, s, 5.2)}
        </g>
      ))}
      {t(397, 186, 'VIP', 7.5)}
      {vipLabels.map((s, k) => (
        <g key={k}>
          <circle cx={402} cy={199.5 + k * 12} r={[1.1, 2.2][k]} fill="#000" />
          {t(410, 199.5 + k * 12, s, 5.2)}
        </g>
      ))}

      {t(913, 47.5, 'group', 6, { fontWeight: 'bold' })}
      <rect x={915} y={52.7} width={6.7} height={103} fill="url(#heatgrad)" />
      {heatLegendTicks.map((v) => t(926, heatLegY(v), v < 0 ? '\u2212' + Math.abs(v) : String(v), 6, { key: v }))}
      {t(937, 55, 'group', 6, { fontWeight: 'bold' })}
      {groupNames.map((g, k) => (
        <g key={g}>
          <rect x={936} y={60 + k * 9.5} width={10.5} height={9.3} fill={groupColor[g]} />
          {t(950, 64.8 + k * 9.8, g, 6)}
        </g>
      ))}

      {cLayout.map((L, i) => {
        const cx = (L.l + L.r) / 2;
        const title = violinTitles[i];
        return (
          <g key={i}>
            <rect x={L.l} y={L.t} width={L.r - L.l} height={L.b - L.t} fill="none" stroke="#555" strokeWidth={0.9} />
            {i === 1 ? (
              <>
                {t(cx, L.t - 13.5, '7-[(6-Hydroxy-3,7-dimethyl-2,7-octadienyl)oxy]-2H-1-', 4.6, { textAnchor: 'middle' })}
                {t(cx, L.t - 6, 'benzopyran-2-one', 4.6, { textAnchor: 'middle' })}
              </>
            ) : t(cx, L.t - 6, title, 4.6, { textAnchor: 'middle' })}
            <text transform={`translate(${L.l - 17},${(L.t + L.b) / 2}) rotate(-90)`} textAnchor="middle" dominantBaseline="central" fontSize={4.3} fontWeight="bold" fontFamily={FONT} fill="#333">Raw Intensity</text>
            {t(cx - 25, L.b + 26, 'Group', 3.6, { fill: '#444' })}
            <rect x={cx - 14} y={L.b + 23.5} width={5} height={5} fill={BOX_FILL.wt} stroke="#555" strokeWidth={0.5} />
            {t(cx - 7.5, L.b + 26, 'WT', 4, { fill: '#444' })}
            <rect x={cx + 1} y={L.b + 23.5} width={5} height={5} fill={BOX_FILL.mu} stroke="#555" strokeWidth={0.5} />
            {t(cx + 7.5, L.b + 26, 'MU', 4, { fill: '#444' })}
          </g>
        );
      })}

      {t(975, 935.7, 'fold change', 6.3)}
      <rect x={975} y={942} width={11} height={51} fill="url(#foldgrad)" />
      {foldTicks.map((v, k) => t(989, 950.7 + k * 10.35, v.toFixed(1), 4.8, { key: k }))}
      {t(975, 1001.7, 'category', 6.3)}
      {netCategories.map((c, k) => (
        <g key={c}>
          <line x1={976} x2={985} y1={1013.3 + k * 10.4} y2={1013.3 + k * 10.4} stroke={catColors[k]} strokeWidth={0.9} />
          {t(989, 1013.3 + k * 10.4, c, 4.8)}
        </g>
      ))}
      {t(975, 1067.3, 'size', 6.3)}
      {sizeLevels.map((s, k) => (
        <g key={s}>
          <circle cx={984} cy={1080 + k * 14} r={sizeRadius[s]} fill="#000" />
          {t(997, 1080 + k * 14, String(s), 4.8)}
        </g>
      ))}
    </svg>
  );
}

export default function App() {
  return (
    <div style={{ position: 'absolute', left: 0, top: 0, width: 1072, height: 1147, background: '#fff', overflow: 'hidden', fontFamily: FONT }}>
      <PanelA />
      <PanelB />
      {violinTitles.map((_, i) => <ViolinPanel key={i} idx={i} />)}
      <PanelD />
      <PanelE />
      <Overlay />
    </div>
  );
}
